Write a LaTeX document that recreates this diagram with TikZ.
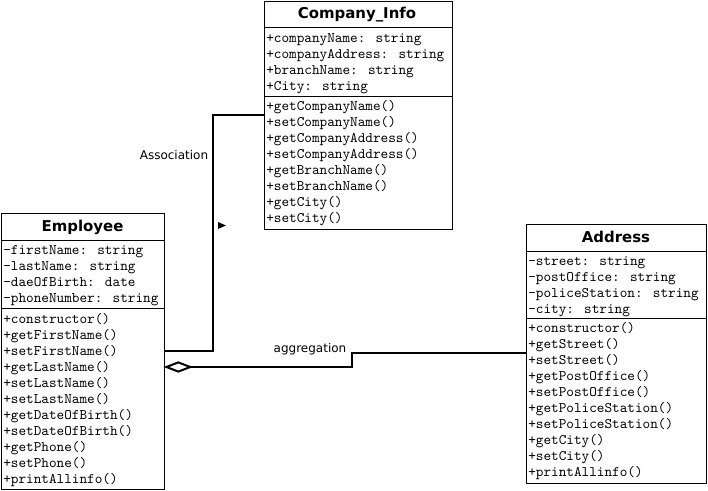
\documentclass[tikz,border=0pt]{standalone}
\usepackage{fontspec}
\setmainfont{DejaVu Sans}
\usetikzlibrary{arrows.meta}
\tikzset{
  classbox/.style={draw, line width=0.75pt, inner sep=0pt, anchor=north west},
  sepline/.style={line width=0.75pt},
  row/.style={anchor=west, inner sep=0pt, font=\ttfamily\fontsize{10.9}{11}\selectfont, text height=7pt, text depth=1pt},
  ttl/.style={inner sep=0pt, font=\bfseries\fontsize{11.2}{12}\selectfont},
  conn/.style={line width=1.5pt},
  lbl/.style={inner sep=0pt, font=\fontsize{9}{10}\selectfont},
}
\begin{document}
\begin{tikzpicture}[x=0.75pt, y=-0.75pt]
\useasboundingbox (0,0) rectangle (708,491);
% ---------- Company_Info ----------
\node[classbox, minimum width=188*0.75pt, minimum height=228*0.75pt] (ci) at (264,1) {};
\node[ttl] (ciT) at (357,15) {Company\_Info};
\draw[sepline] (ci.west |- 0,28) -- (ci.east |- 0,28);
\draw[sepline] (ci.west |- 0,97) -- (ci.east |- 0,97);
\foreach [count=\i from 0] \t in {+companyName: string,+companyAddress: string,+branchName: string,+City: string}
  \node[row] (cia\i) at (266,{39+16*\i}) {\t};
\foreach [count=\i from 0] \t in {+getCompanyName(),+setCompanyName(),+getCompanyAddress(),+setCompanyAddress(),+getBranchName(),+setBranchName(),+getCity(),+setCity()}
  \node[row] (cim\i) at (266,{107+16*\i}) {\t};
% ---------- Employee ----------
\node[classbox, minimum width=163*0.75pt, minimum height=276*0.75pt] (emp) at (1,213) {};
\node[ttl] (empT) at (82.5,227) {Employee};
\draw[sepline] (emp.west |- 0,241) -- (emp.east |- 0,241);
\draw[sepline] (emp.west |- 0,309) -- (emp.east |- 0,309);
\foreach [count=\i from 0] \t in {-firstName: string,-lastName: string,-daeOfBirth: date,-phoneNumber: string}
  \node[row] (empa\i) at (3,{251+16*\i}) {\t};
\foreach [count=\i from 0] \t in {+constructor(),+getFirstName(),+setFirstName(),+getLastName(),+setLastName(),+setLastName(),+getDateOfBirth(),+setDateOfBirth(),+getPhone(),+setPhone(),+printAllinfo()}
  \node[row] (empm\i) at (3,{320+16*\i}) {\t};
% ---------- Address ----------
\node[classbox, minimum width=180*0.75pt, minimum height=259*0.75pt] (addr) at (526,224) {};
\node[ttl] (addrT) at (616,237) {Address};
\draw[sepline] (addr.west |- 0,252) -- (addr.east |- 0,252);
\draw[sepline] (addr.west |- 0,319) -- (addr.east |- 0,319);
\foreach [count=\i from 0] \t in {-street: string,-postOffice: string,-policeStation: string,-city: string}
  \node[row] (addra\i) at (528,{262+16*\i}) {\t};
\foreach [count=\i from 0] \t in {+constructor(),+getStreet(),+setStreet(),+getPostOffice(),+setPostOffice(),+getPoliceStation(),+setPoliceStation(),+getCity(),+setCity(),+printAllinfo()}
  \node[row] (addrm\i) at (528,{329+16*\i}) {\t};
% ---------- Association ----------
\draw[conn] (emp.east |- 0,351) -- (213,351) -- (213,115) -- (ci.west |- 0,115);
\fill (218,222) -- (226,225.5) -- (218,229) -- cycle;
\node[lbl] (assocL) at (174,155) {Association};
% ---------- Aggregation ----------
\draw[conn, {Diamond[open, length=22pt, width=8.5pt, sep=-1pt]}-] (emp.east |- 0,367) -- (352,367) -- (352,353) -- (addr.west |- 0,353);
\node[lbl] (aggL) at (310,349) {aggregation};
\end{tikzpicture}
\end{document}
